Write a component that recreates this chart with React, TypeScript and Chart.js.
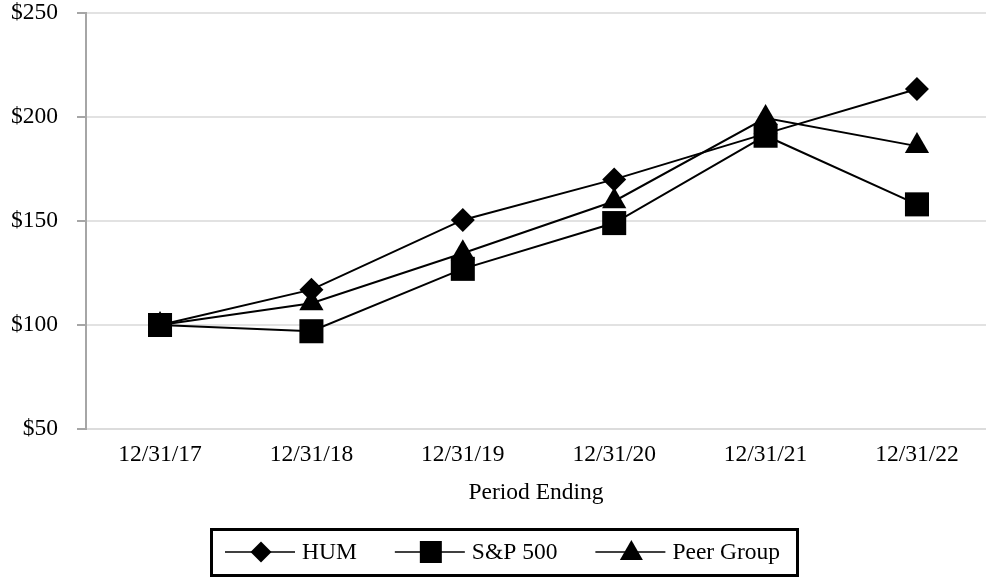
import React, { useEffect, useRef } from 'react';
import { Chart, registerables } from 'chart.js';

Chart.register(...registerables);

const categories = ['12/31/17', '12/31/18', '12/31/19', '12/31/20', '12/31/21', '12/31/22'];
const humValues = [100, 117, 150.5, 170, 192, 213.5];
const sp500Values = [100, 97, 127, 149, 191, 158];
const peerValues = [100, 110.5, 134.5, 159.5, 199.5, 186];
const seriesNames = ['HUM', 'S&P 500', 'Peer Group'];
const yMin = 50;
const yMax = 250;
const yStep = 50;
const xTitle = 'Period Ending';

const FONT_FAMILY = "'Liberation Serif', 'Times New Roman', serif";
const FONT_SIZE = 23.5;

function drawLegendMarker(ctx: CanvasRenderingContext2D, style: string, x: number, y: number) {
  ctx.beginPath();
  if (style === 'rectRot') {
    const h = 10.5;
    ctx.moveTo(x - h, y);
    ctx.lineTo(x, y - h);
    ctx.lineTo(x + h, y);
    ctx.lineTo(x, y + h);
    ctx.closePath();
  } else if (style === 'rect') {
    const h = 11;
    ctx.rect(x - h, y - h, 2 * h, 2 * h);
  } else {
    const w = 11.5;
    ctx.moveTo(x, y - 12);
    ctx.lineTo(x + w, y + 8);
    ctx.lineTo(x - w, y + 8);
    ctx.closePath();
  }
  ctx.fillStyle = '#000';
  ctx.fill();
}

const boxLegend = {
  id: 'boxLegend',
  afterDraw(chart: any) {
    const ctx: CanvasRenderingContext2D = chart.ctx;
    ctx.save();
    ctx.strokeStyle = '#000';
    ctx.lineWidth = 3;
    ctx.strokeRect(211.5, 529.5, 586, 46);
    ctx.font = `${FONT_SIZE}px ${FONT_FAMILY}`;
    ctx.textBaseline = 'middle';
    ctx.textAlign = 'left';
    const y = 552;
    let x = 225;
    chart.data.datasets.forEach((ds: any) => {
      ctx.strokeStyle = '#000';
      ctx.lineWidth = 1.5;
      ctx.beginPath();
      ctx.moveTo(x, y);
      ctx.lineTo(x + 70, y);
      ctx.stroke();
      drawLegendMarker(ctx, ds.pointStyle, x + 36, y);
      ctx.fillStyle = '#000';
      ctx.fillText(ds.label, x + 77, y + 1);
      x += 77 + ctx.measureText(ds.label).width + 38;
    });
    ctx.restore();
  },
};

export default function App() {
  const canvasRef = useRef<HTMLCanvasElement | null>(null);

  useEffect(() => {
    if (!canvasRef.current) return;
    const font = { family: FONT_FAMILY, size: FONT_SIZE };
    const toPoints = (vals: number[]) => vals.map((v, i) => ({ x: i, y: v }));
    const mk = (label: string, vals: number[], style: string, r: number, order: number) => ({
      label,
      data: toPoints(vals),
      order,
      borderColor: '#000',
      borderWidth: 2,
      pointStyle: style,
      pointRadius: r,
      pointHoverRadius: r,
      pointBackgroundColor: '#000',
      pointBorderColor: '#000',
      pointBorderWidth: 0,
      tension: 0,
      fill: false,
      clip: false,
    });
    const chart = new Chart(canvasRef.current, {
      type: 'line',
      data: {
        datasets: [
          mk(seriesNames[0], humValues, 'rectRot', 12, 0),
          mk(seriesNames[1], sp500Values, 'rect', 17, 2),
          mk(seriesNames[2], peerValues, 'triangle', 14, 1),
        ],
      },
      options: {
        responsive: false,
        animation: false,
        devicePixelRatio: 1,
        layout: { autoPadding: false, padding: { top: 0, right: 0, bottom: 71, left: 0 } },
        plugins: {
          legend: { display: false },
          tooltip: { enabled: false },
          title: { display: false },
        },
        scales: {
          x: {
            type: 'linear',
            min: -0.489,
            max: 5.456,
            bounds: 'data',
            afterBuildTicks: (s: any) => {
              s.ticks = categories.map((_, i) => ({ value: i }));
            },
            afterFit: (s: any) => {
              s.height = 78;
              s.paddingTop = 0;
              s.paddingBottom = 0;
            },
            ticks: {
              callback: (v: any) => categories[v as number] ?? '',
              font,
              color: '#000',
              padding: 12,
              maxRotation: 0,
              autoSkip: false,
            },
            grid: { display: false, drawTicks: false },
            border: { display: true, color: '#dcdcdc', width: 2 },
            title: {
              display: true,
              text: xTitle,
              font,
              color: '#000',
              padding: { top: 10, bottom: 0 },
            },
          },
          y: {
            min: yMin,
            max: yMax,
            afterFit: (s: any) => {
              s.width = 86;
              s.paddingTop = 13;
              s.paddingBottom = 0;
            },
            ticks: {
              stepSize: yStep,
              callback: (v: any) => '$' + v,
              font,
              color: '#000',
              padding: 19,
            },
            grid: {
              color: '#e2e2e2',
              lineWidth: 2,
              tickLength: 9,
              tickColor: '#a6a6a6',
              tickWidth: 2,
            },
            border: { display: true, color: '#a6a6a6', width: 2 },
          },
        },
      } as any,
      plugins: [boxLegend],
    });
    return () => chart.destroy();
  }, []);

  return (
    <div style={{ position: 'absolute', left: 0, top: 0, width: 986, height: 578, background: '#fff' }}>
      <canvas ref={canvasRef} width={986} height={578} style={{ display: 'block' }} />
    </div>
  );
}
